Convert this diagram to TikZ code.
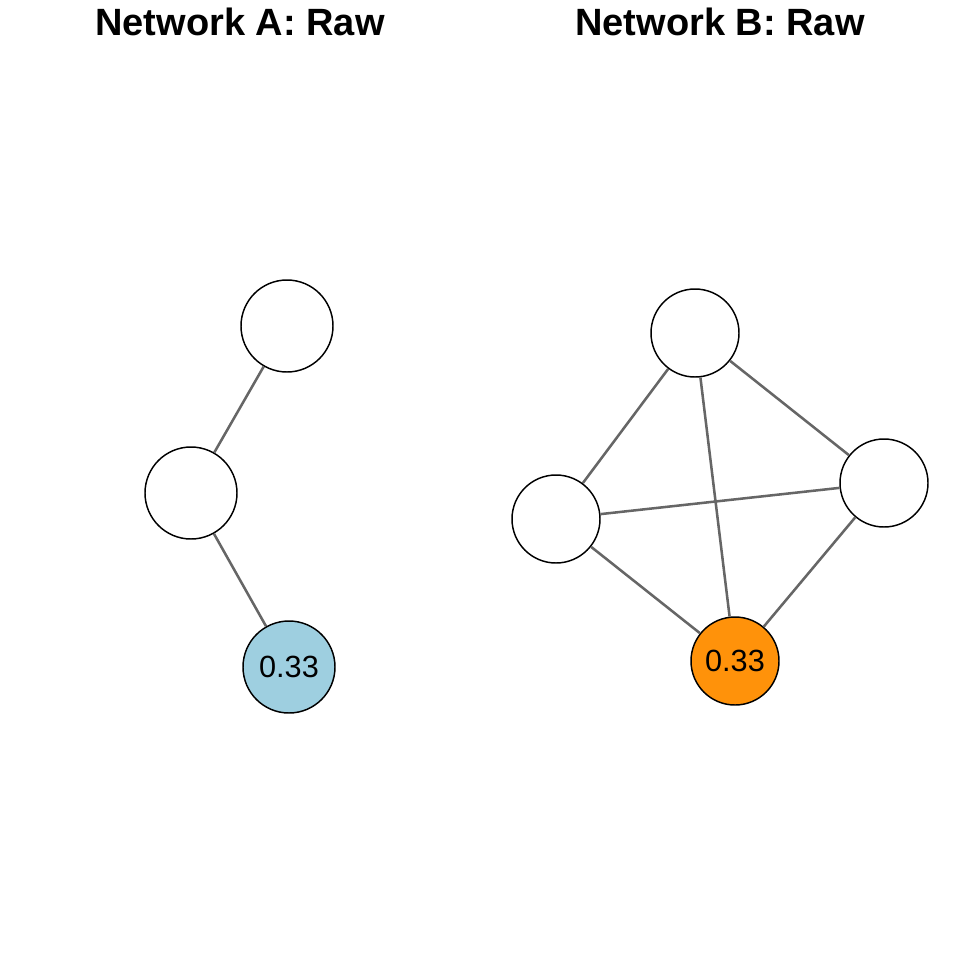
\documentclass[tikz,border=0pt]{standalone}
\usepackage{fontspec}
\setmainfont{Liberation Sans}
\definecolor{edgegray}{HTML}{666666}
\definecolor{nodeblue}{HTML}{9ECFE0}
\definecolor{nodeorange}{HTML}{FF920A}
\begin{document}
\begin{tikzpicture}[x=0.75pt,y=-0.75pt,
  vert/.style={circle,draw=black,line width=1.1pt,fill=white,inner sep=0pt},
  vertA/.style={vert,minimum size=69pt},
  vertB/.style={vert,minimum size=66pt},
  edge/.style={draw=edgegray,line width=1.9pt},
  title/.style={font=\fontsize{28.5}{32}\selectfont\bfseries,anchor=base},
  lab/.style={font=\fontsize{23}{26}\selectfont}]
\useasboundingbox (0,0) rectangle (960,960);
\node[title] (ta) at (240,35) {Network A: Raw};
\node[title] (tb) at (720,35) {Network B: Raw};
% Network A
\node[vertA] (a1) at (287,326) {};
\node[vertA] (a2) at (191,493) {};
\node[vertA,fill=nodeblue,lab] (a3) at (289,667) {0.33};
% Network B
\node[vertB] (b1) at (695,333) {};
\node[vertB] (b2) at (556,519) {};
\node[vertB] (b3) at (884,483) {};
\node[vertB,fill=nodeorange,lab] (b4) at (735,661) {0.33};
\draw[edge] (a1) -- (a2);
\draw[edge] (a2) -- (a3);
\draw[edge] (b1) -- (b2);
\draw[edge] (b1) -- (b3);
\draw[edge] (b1) -- (b4);
\draw[edge] (b2) -- (b3);
\draw[edge] (b2) -- (b4);
\draw[edge] (b3) -- (b4);
\end{tikzpicture}
\end{document}
